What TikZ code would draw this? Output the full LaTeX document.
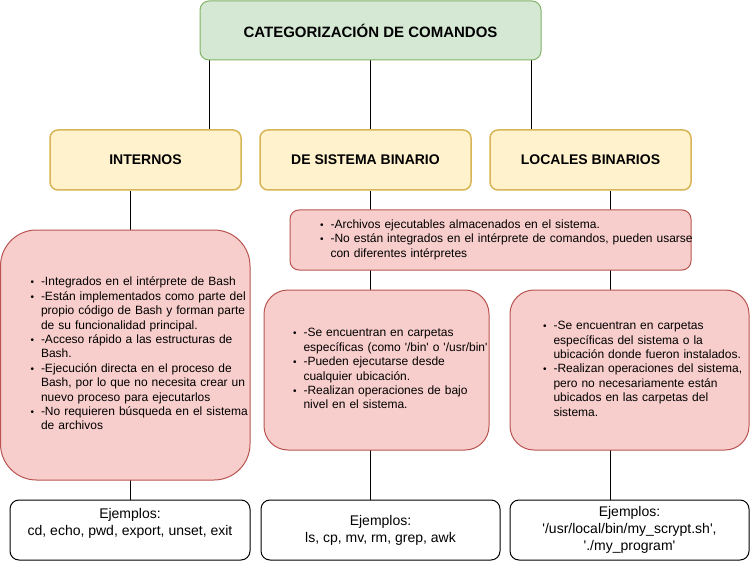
\documentclass[tikz,border=0pt]{standalone}
\usepackage{fontspec}
\setmainfont{Liberation Sans}
\usepackage{xcolor}
\usepackage{tikz}
\usetikzlibrary{positioning, backgrounds}

\definecolor{grnfill}{HTML}{D5E8D4}
\definecolor{grnline}{HTML}{82B366}
\definecolor{ylwfill}{HTML}{FFF2CC}
\definecolor{ylwline}{HTML}{D6B656}
\definecolor{pnkfill}{HTML}{F8CECC}
\definecolor{pnkline}{HTML}{B85450}

\newcommand{\bul}{{\fontsize{10}{10}\selectfont\textbullet}}

\begin{document}
\begin{tikzpicture}[x=1pt, y=-1pt,
  titlebox/.style={draw=grnline, fill=grnfill, rounded corners=9pt, line width=1pt,
    font=\fontsize{15}{18}\selectfont\bfseries},
  catbox/.style={draw=ylwline, fill=ylwfill, rounded corners=8pt, line width=1.5pt,
    minimum height=60pt, font=\fontsize{14}{16.8}\selectfont\bfseries},
  notebox/.style={draw=pnkline, fill=pnkfill, line width=1pt, inner ysep=0pt,
    align=left, font=\fontsize{12}{14.4}\selectfont},
  exbox/.style={draw=black, fill=white, rounded corners=9pt, line width=1pt,
    minimum height=60pt, align=center, font=\fontsize{14}{16.8}\selectfont}]
  \useasboundingbox (0,0) rectangle (751,561);

  \node[titlebox, minimum width=341pt, minimum height=59pt] (Top) at (370.5,30.5) {CATEGORIZACI\'ON DE COMANDOS};

  \node[catbox, minimum width=191pt] (Int) at (145.5,160) {INTERNOS};
  \node[catbox, minimum width=211pt] (Sis) at (365.5,160) {DE SISTEMA BINARIO};
  \node[catbox, minimum width=201pt] (Loc) at (590.5,160) {LOCALES BINARIOS};

  \node[notebox, rounded corners=36pt, inner xsep=30pt, text width=189.5pt, minimum height=250pt] (IntNote) at (125.25,355) {\noindent
    \begin{tabular}{@{}l@{\hspace{7pt}}l@{}}
      \bul & -Integrados en el intérprete de Bash\\
      \bul & -Están implementados como parte del\\
           & propio código de Bash y forman parte\\
           & de su funcionalidad principal.\\
      \bul & -Acceso rápido a las estructuras de\\
           & Bash.\\
      \bul & -Ejecución directa en el proceso de\\
           & Bash, por lo que no necesita crear un\\
           & nuevo proceso para ejecutarlos\\
      \bul & -No requieren búsqueda en el sistema\\
           & de archivos
    \end{tabular}};
  \node[notebox, rounded corners=9pt, inner xsep=30pt, text width=341pt, minimum height=60pt] (BinNote) at (490.5,240) {\noindent
    \begin{tabular}{@{}l@{\hspace{7pt}}l@{}}
      \bul & -Archivos ejecutables almacenados en el sistema.\\
      \bul & -No están integrados en el intérprete de comandos, pueden usarse\\
           & con diferentes intérpretes
    \end{tabular}};
  \node[notebox, rounded corners=24pt, inner xsep=29pt, text width=167pt, minimum height=160pt] (SisNote) at (376.5,370) {\noindent
    \begin{tabular}{@{}l@{\hspace{7pt}}l@{}}
      \bul & -Se encuentran en carpetas\\
           & específicas (como \textquotesingle/bin\textquotesingle{} o \textquotesingle/usr/bin\textquotesingle\\
      \bul & -Pueden ejecutarse desde\\
           & cualquier ubicación.\\
      \bul & -Realizan operaciones de bajo\\
           & nivel en el sistema.
    \end{tabular}};
  \node[notebox, rounded corners=24pt, inner xsep=33pt, text width=173pt, minimum height=160pt] (LocNote) at (629.5,370) {\noindent
    \begin{tabular}{@{}l@{\hspace{7pt}}l@{}}
      \bul & -Se encuentran en carpetas\\
           & específicas del sistema o la\\
           & ubicación donde fueron instalados.\\
      \bul & -Realizan operaciones del sistema,\\
           & pero no necesariamente están\\
           & ubicados en las carpetas del\\
           & sistema.
    \end{tabular}};

  \node[exbox, minimum width=240pt] (IntEx) at (130,530) {Ejemplos:\\cd, echo, pwd, export, unset, exit\\\mbox{}};
  \node[exbox, minimum width=239pt] (SisEx) at (380.5,530) {Ejemplos:\\ls, cp, mv, rm, grep, awk};
  \node[exbox, minimum width=239pt] (LocEx) at (629.5,530) {Ejemplos:\\\textquotesingle/usr/local/bin/my\_scrypt.sh\textquotesingle,\\\textquotesingle./my\_program\textquotesingle};

  \begin{scope}[on background layer]
    \draw ([xshift=10pt]Top.south west) -- ([xshift=10pt]Top.south west |- Int.north);
    \draw (Top.south) -- (Top.south |- Sis.north);
    \draw ([xshift=-10pt]Top.south east) -- ([xshift=-10pt]Top.south east |- Loc.north);
    \draw (IntEx.north |- Int.south) -- (IntEx.north);
    \draw ([xshift=4.5pt]Sis.south) -- ([xshift=4.5pt]Sis.south |- SisEx.north);
    \draw ([xshift=19.5pt]Loc.south) -- ([xshift=19.5pt]Loc.south |- LocEx.north);
  \end{scope}
\end{tikzpicture}
\end{document}
